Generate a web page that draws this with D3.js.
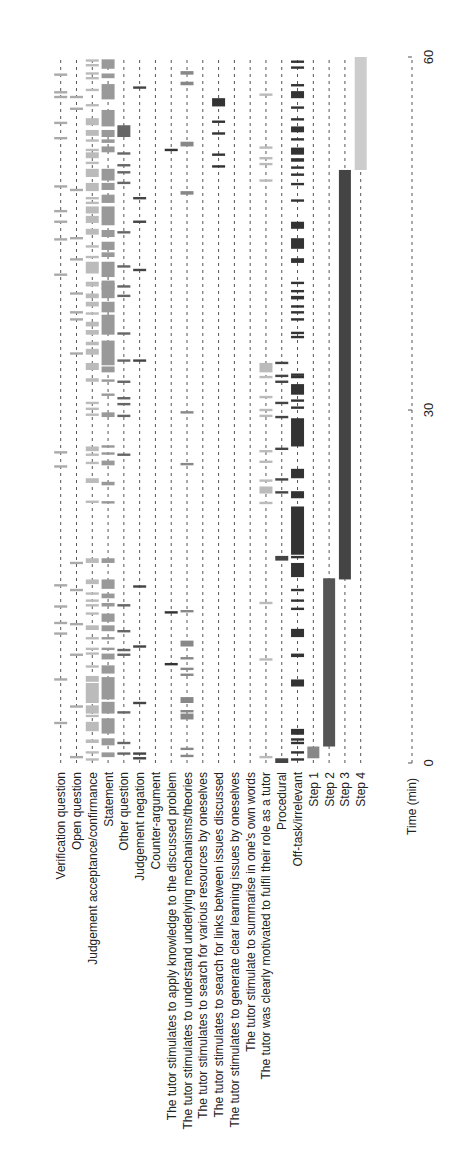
<!DOCTYPE html>
<html><head><meta charset="utf-8">
<script src="https://cdn.jsdelivr.net/npm/d3@7"></script>
<style>body{margin:0;background:#fff}text{font-family:"Liberation Sans",Arial,sans-serif;fill:#222}</style>
</head><body><svg id="chart" width="452" height="1154"></svg>
<script>
const categories = ["Verification question","Open question","Judgement acceptance/confirmance","Statement","Other question","Judgement negation","Counter-argument","The tutor stimulates to apply knowledge to the discussed problem","The tutor stimulates to understand underlying mechanisms/theories","The tutor stimulates to search for various resources by oneselves","The tutor stimulates to search for links between issues discussed","The tutor stimulates to generate clear learning issues by oneselves","The tutor stimulate to summarise in one's own words","The tutor was clearly motivated to fulfil their role as a tutor","Procedural","Off-task/irrelevant","Step 1","Step 2","Step 3","Step 4"];
const shades = ["#aaa","#aaa","#bbb","#999","#666","#444","#444","#333","#888","#444","#333","#444","#444","#bbb","#444","#333","#888","#555","#444","#ccc"];

// events in minutes: a number = short utterance, [start, end] = longer segment
const verification = [58.5,57.0,56.6,54.4,53.1,49.0,46.9,46.0,44.5,41.5,26.4,25.2,15.1,13.3,11.9,11.0,7.1,3.4];
const openQ = [56.6,55.6,48.7,44.6,42.8,39.9,38.3,37.7,34.8,17.0,14.7,11.8,9.2,4.8,0.5];
const acceptance = [59.7,59.3,58.6,58.2,57.2,55.9,[54.2,54.8],[53.3,53.8],52.9,52.1,[51.4,51.9],51.0,[49.8,50.5],[48.6,49.3],48.0,47.6,[46.7,47.3],[45.9,46.5],[44.9,45.4],43.9,43.0,[41.6,42.6],40.8,
  40.6,[39.5,39.9],[38.8,39.2],38.2,[37.1,37.5],[36.4,36.8],[35.5,35.8],[34.7,35.2],[33.4,34.0],[32.4,32.7],30.6,30.1,29.6,[26.5,26.9],26.2,25.5,[23.8,24.2],[22.1,22.3],
  [17.0,17.4],[15.2,15.6],14.4,13.8,13.4,12.7,[11.3,11.7],10.6,9.7,9.3,8.2,[6.9,7.4],[5.1,6.8],[4.2,4.9],4.0,[2.7,3.5],[1.7,2.0],0.9,0.3];
const statement = [[59.0,59.8],[58.2,58.6],[56.6,57.7],56.5,[54.1,55.5],[53.2,53.8],[52.7,53.0],[51.9,52.4],[49.5,50.5],[48.7,49.3],[47.6,48.3],[45.7,47.3],[44.7,45.3],[43.6,44.3],[43.0,43.4],[41.3,42.6],[40.2,40.8],
  [40.6,41.0],[39.5,40.5],[38.3,39.2],[36.4,38.1],[33.8,35.9],[33.2,33.7],32.5,31.3,[29.4,29.8],26.9,26.3,[25.3,25.7],[23.6,23.9],[22.1,22.2],
  [17.0,17.4],[14.8,15.6],[14.0,14.4],[13.3,13.6],[12.0,12.7],[11.2,11.7],10.6,9.7,[8.8,9.3],[7.6,8.3],[5.4,7.3],[4.2,5.2],[2.5,3.8],[1.5,2.1],[0.5,0.9]];
const otherQ = [[53.2,54.2],51.8,50.8,50.2,49.3,45.1,42.2,40.5,39.7,36.5,34.2,32.4,31.0,30.5,29.5,26.2,13.4,11.2,9.6,9.2,4.3,1.7,0.8];
const negation = [57.4,48.0,46.0,41.9,34.2,15.0,9.9,5.1,0.8,0.4];
const counterArg = [];
const applyKnowledge = [52.1,12.8,8.4];
const mechanisms = [[58.5,58.8],[57.6,57.9],[52.4,52.8],[48.3,48.6],29.8,25.4,12.9,[9.9,10.4],8.9,8.0,7.5,[5.1,5.6],4.4,[3.7,4.2],1.2,0.6];
const resources = [];
const links = [[55.8,56.5],54.5,53.5,51.7,50.7];
const learningIssues = [];
const summarise = [];
const motivated = [56.8,52.3,51.4,50.9,49.5,[33.2,34.0],32.8,31.1,30.0,29.5,26.5,25.6,24.0,[22.9,23.5],22.1,13.6,8.8,0.5];
const procedural = [34.0,32.9,[32.3,32.5],30.6,29.4,26.7,24.1,23.0,[17.2,17.6],[0,0.4]];
const offTask = [59.6,59.1,57.6,[56.5,57.1],55.7,54.7,[53.6,54.1],53.0,[51.7,52.3],[51.1,51.4],50.6,50.0,49.2,47.8,[45.4,46.0],[43.7,44.6],[42.5,42.9],40.8,
  40.1,[39.4,39.7],38.8,38.3,37.7,[36.5,36.6],36.2,33.0,32.8,[31.3,32.2],30.8,30.2,[26.9,29.3],[24.2,25.0],[22.5,23.1],[17.7,21.8],17.5,[15.8,17.0],[14.6,14.8],13.8,13.1,[10.7,11.4],[9.0,9.3],[6.5,7.1],[2.4,2.9],2.0,1.7,0.9,0.3];
const step1 = [[0.4,1.4]];
const step2 = [[1.4,15.7]];
const step3 = [[15.6,50.4]];
const step4 = [[50.4,60]];
const series = [verification,openQ,acceptance,statement,otherQ,negation,counterArg,applyKnowledge,mechanisms,resources,links,learningIssues,summarise,motivated,procedural,offTask,step1,step2,step3,step4];
const timeTicks = [0,30,60];

const svg = d3.select("#chart");
const x = d3.scalePoint().domain(categories).range([60.7,360.7]);
const y = d3.scaleLinear().domain([0,60]).range([763,57]);

// dashed guide per category
svg.append("g").selectAll("line").data(categories).join("line")
  .attr("x1",d=>x(d)).attr("x2",d=>x(d)).attr("y1",y(0)).attr("y2",y(60))
  .attr("stroke","#555").attr("stroke-width",1).attr("stroke-dasharray","3,4");

// events
const events = [];
series.forEach((s,i)=>s.forEach(e=>{
  const a = Array.isArray(e)?e:[e,e];
  events.push({cat:categories[i],i,t0:a[0],t1:a[1]});
}));
svg.append("g").selectAll("rect").data(events).join("rect")
  .attr("x",d=>x(d.cat)-(d.i>=16?6:6.5))
  .attr("width",d=>d.i>=16?12:13)
  .attr("y",d=>Math.min(y(d.t1),(y(d.t0)+y(d.t1))/2-1.2))
  .attr("height",d=>Math.max(2.4,y(d.t0)-y(d.t1)))
  .attr("fill",d=>shades[d.i]);

// category labels
svg.append("g").selectAll("text").data(categories).join("text")
  .attr("transform",d=>`translate(${x(d)+4.5},772) rotate(-90)`)
  .attr("text-anchor","end").attr("font-size",12).text(d=>d);

// time axis
const ax = 412;
svg.append("line").attr("x1",ax).attr("x2",ax).attr("y1",y(0)).attr("y2",y(60))
  .attr("stroke","#555").attr("stroke-dasharray","3,4");
svg.append("g").selectAll("line").data(timeTicks).join("line")
  .attr("x1",ax-4).attr("x2",ax).attr("y1",d=>y(d)).attr("y2",d=>y(d)).attr("stroke","#555");
svg.append("g").selectAll("text").data(timeTicks).join("text")
  .attr("transform",d=>`translate(${ax+21},${y(d)}) rotate(-90)`)
  .attr("text-anchor","middle").attr("font-size",13).text(d=>d);
svg.append("text").attr("transform",`translate(${ax+4},778) rotate(-90)`)
  .attr("text-anchor","end").attr("font-size",12).text("Time (min)");
</script></body></html>
